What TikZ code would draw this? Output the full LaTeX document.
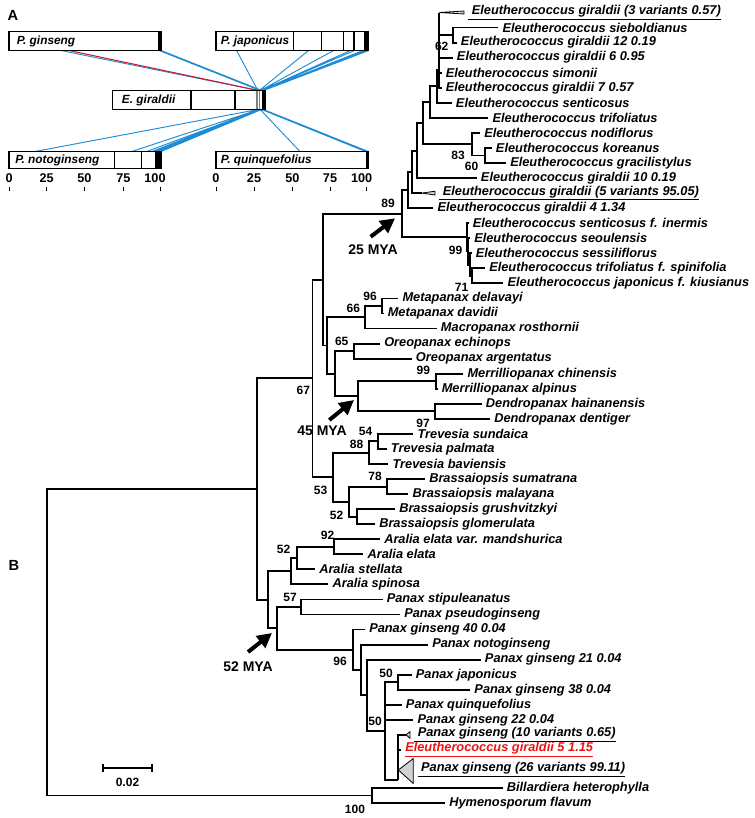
\documentclass[tikz,border=0pt]{standalone}
\usepackage{fontspec}
\setmainfont{Liberation Sans}
\usetikzlibrary{arrows.meta}
\definecolor{synblue}{RGB}{30,140,212}
\definecolor{synred}{RGB}{200,30,45}
\definecolor{hired}{RGB}{235,20,20}

\begin{document}
\begin{tikzpicture}[x=0.75pt, y=-0.75pt,
  branch/.style={line width=1.4pt},
  taxon/.style={anchor=west, inner xsep=3pt, inner ysep=0pt, font=\bfseries\itshape\fontsize{9.6}{10}\selectfont},
  boot/.style={inner sep=0pt, font=\bfseries\fontsize{9}{10}\selectfont},
  mya/.style={line width=3pt, -{Triangle[length=11pt,width=11pt]}},
  myatext/.style={inner sep=0pt, font=\bfseries\fontsize{10.5}{12}\selectfont},
  clade/.style={draw=black, line width=0.6pt, fill=gray!35},
  bar/.style={draw=black, line width=0.8pt},
  barlabel/.style={anchor=west, inner sep=0pt, font=\bfseries\itshape\fontsize{8.9}{10}\selectfont},
  axislabel/.style={inner sep=0pt, font=\bfseries\fontsize{9.5}{10}\selectfont},
  panel/.style={inner sep=0pt, font=\bfseries\fontsize{11}{12}\selectfont},
  syn/.style={draw=synblue, line width=0.7pt},
  synr/.style={draw=synred, line width=0.8pt}]

  \useasboundingbox (0,0) rectangle (755,818);

  % Panel A: collinear blocks between the genomes
  \node[panel] (labA) at (13,15) {A};

  \draw[syn] (62,50.7) -- (259,90.7)
    (159.5,50.7) -- (260.5,90.7) (160.7,50.7) -- (261.5,90.7) (161.7,50.7) -- (262.5,90.7);
  \draw[synr] (70,50.7) -- (259.5,90.7);
  \draw[syn] (236.7,50.7) -- (258,90.7) (308.3,50.7) -- (259,90.7) (333.3,50.7) -- (260,90.7)
    (350,50.7) -- (260.5,90.7) (354,50.7) -- (261,90.7) (362.5,50.7) -- (261.5,90.7)
    (364.5,50.7) -- (262,90.7) (366.5,50.7) -- (262.5,90.7) (368.3,50.7) -- (263,90.7);
  \draw[syn] (259,109.3) -- (35,151.5) (259.5,109.3) -- (131.7,151.5) (260,109.3) -- (146.7,151.5)
    (260.5,109.3) -- (152,151.5) (261,109.3) -- (155,151.5) (261.5,109.3) -- (158,151.5)
    (262,109.3) -- (161,151.5);
  \draw[syn] (260,109.3) -- (300,151.5) (261,109.3) -- (365.5,151.5) (262,109.3) -- (367,151.5)
    (263,109.3) -- (368.3,151.5);

  % the five genome bars
  \draw[bar, fill=white] (9,31.7) rectangle (161.7,50.7);
  \fill (157.7,31.7) rectangle (161.7,50.7);
  \node[barlabel] (barGin) at (16.5,41.2) {P. ginseng};

  \draw[bar, fill=white] (216,31.7) rectangle (368.3,50.7);
  \draw[bar] (293.3,31.7) -- (293.3,50.7) (321.7,31.7) -- (321.7,50.7)
    (343.3,31.7) -- (343.3,50.7) (354,31.7) -- (354,50.7);
  \fill (364,31.7) rectangle (368.3,50.7);
  \node[barlabel] (barJap) at (220.7,41.2) {P. japonicus};

  \draw[bar, fill=white] (112.7,90.7) rectangle (265,109.3);
  \draw[bar] (191,90.7) -- (191,109.3) (235,90.7) -- (235,109.3);
  \draw[gray, line width=0.6pt] (256,90.7) -- (256,109.3) (257.8,90.7) -- (257.8,109.3)
    (259.6,90.7) -- (259.6,109.3);
  \fill (261.7,90.7) rectangle (265,109.3);
  \node[barlabel] (barGir) at (121.7,100) {E. giraldii};

  \draw[bar, fill=white] (9,151.5) rectangle (161.7,168.3);
  \draw[bar] (114.3,151.5) -- (114.3,168.3) (141.7,151.5) -- (141.7,168.3);
  \fill (155,151.5) rectangle (161.7,168.3);
  \node[barlabel] (barNot) at (15,160) {P. notoginseng};

  \draw[bar, fill=white] (216,151.5) rectangle (368.3,168.3);
  \fill (365.7,151.5) rectangle (368.3,168.3);
  \node[barlabel] (barQui) at (220.7,160) {P. quinquefolius};

  % position axes
  \node[axislabel] (ax0) at (9.2,178.5) {0};
  \node[axislabel] (ax25) at (46.7,178.5) {25};
  \node[axislabel] (ax50) at (84.3,178.5) {50};
  \node[axislabel] (ax75) at (123.3,178.5) {75};
  \node[axislabel] (ax100) at (155,178.5) {100};
  \node[axislabel] (bx0) at (216,178.5) {0};
  \node[axislabel] (bx25) at (254,178.5) {25};
  \node[axislabel] (bx50) at (292.3,178.5) {50};
  \node[axislabel] (bx75) at (330,178.5) {75};
  \node[axislabel] (bx100) at (361.7,178.5) {100};
  \draw[line width=0.6pt] (9,186.5) -- (9,190.5) (46.7,186.5) -- (46.7,190.5) (84.3,186.5) -- (84.3,190.5)
    (123.3,186.5) -- (123.3,190.5) (160,186.5) -- (160,190.5)
    (216,186.5) -- (216,190.5) (254,186.5) -- (254,190.5) (292.3,186.5) -- (292.3,190.5)
    (330,186.5) -- (330,190.5) (366.7,186.5) -- (366.7,190.5);

  % Panel B: the tree
  \node[panel] (labB) at (14,565) {B};

  % internal nodes
  \coordinate (nRoot) at (47,642.4);
  \coordinate (nRoot2) at (256.7,489.2);
  \coordinate (nOut) at (371.7,795.5);
  \coordinate (n67) at (312.5,378.4);
  \coordinate (nP1) at (323.3,279.6);
  \coordinate (n89) at (401.7,213.7);
  \coordinate (nG) at (408.3,190);
  \coordinate (nF) at (412.3,171.9);
  \coordinate (nE) at (417.3,150.6);
  \coordinate (nD) at (423.3,123.1);
  \coordinate (nC) at (430,102);
  \coordinate (nB) at (436.7,86.2);
  \coordinate (nA) at (439.3,69.6);
  \coordinate (n62) at (453.3,35.1);
  \coordinate (n83) at (471.7,144.2);
  \coordinate (n60) at (485,155.5);
  \coordinate (n99) at (466.7,237.3);
  \coordinate (nY) at (468.3,251.4);
  \coordinate (nZ) at (470,264.6);
  \coordinate (n71) at (471.7,275.9);
  \coordinate (nYY) at (326.7,345.5);
  \coordinate (n66) at (365,317.3);
  \coordinate (n96m) at (381.7,306);
  \coordinate (nX) at (335,373.7);
  \coordinate (n65) at (354,351.1);
  \coordinate (n45) at (358.3,396.3);
  \coordinate (nM99) at (436,381.2);
  \coordinate (nD97) at (435,411.3);
  \coordinate (n53) at (333.3,477.2);
  \coordinate (n88) at (369.3,452.7);
  \coordinate (n54) at (378.3,441.4);
  \coordinate (n52B) at (349,501.6);
  \coordinate (n78) at (387.3,486.6);
  \coordinate (n52b) at (356.7,516.7);
  \coordinate (nR) at (268.4,599.9);
  \coordinate (nAra) at (291,571.3);
  \coordinate (n52A) at (296.7,558.1);
  \coordinate (n92) at (334,546.8);
  \coordinate (nP) at (277.2,628.4);
  \coordinate (n57) at (301,607);
  \coordinate (n96P) at (352.6,649.8);
  \coordinate (na) at (361.4,670);
  \coordinate (nb) at (366.7,695.4);
  \coordinate (nc) at (385,731.1);
  \coordinate (n50j) at (398.2,682.2);
  \coordinate (nDd) at (398.3,780);
  \coordinate (c13) at (421.7,193.1);
  \coordinate (c49) at (406,734.9);

  % leaves
  \node[taxon] (t1) at (464,12.5) {\underline{~Eleutherococcus giraldii (3 variants 0.57)}};
  \node[taxon] (t2) at (498.3,27.55) {Eleutherococcus sieboldianus};
  \node[taxon] (t3) at (456.7,42.6) {Eleutherococcus giraldii 12 0.19};
  \node[taxon] (t4) at (452.7,57.65) {Eleutherococcus giraldii 6 0.95};
  \node[taxon] (t5) at (441.5,72.7) {Eleutherococcus simonii};
  \node[taxon] (t6) at (441.5,87.75) {Eleutherococcus giraldii 7 0.57};
  \node[taxon] (t7) at (451.7,102.8) {Eleutherococcus senticosus};
  \node[taxon] (t8) at (488.3,117.85) {Eleutherococcus trifoliatus};
  \node[taxon] (t9) at (480,132.9) {Eleutherococcus nodiflorus};
  \node[taxon] (t10) at (491.7,147.95) {Eleutherococcus koreanus};
  \node[taxon] (t11) at (506,163) {Eleutherococcus gracilistylus};
  \node[taxon] (t12) at (476.7,178.05) {Eleutherococcus giraldii 10 0.19};
  \node[taxon] (t13) at (435,193.1) {\underline{~Eleutherococcus giraldii (5 variants 95.05)}};
  \node[taxon] (t14) at (433.3,208.15) {Eleutherococcus giraldii 4 1.34};
  \node[taxon] (t15) at (468.5,223.2) {Eleutherococcus senticosus f. inermis};
  \node[taxon] (t16) at (470,238.25) {Eleutherococcus seoulensis};
  \node[taxon] (t17) at (471.5,253.3) {Eleutherococcus sessiliflorus};
  \node[taxon] (t18) at (485,268.35) {Eleutherococcus trifoliatus f. spinifolia};
  \node[taxon] (t19) at (503.3,283.4) {Eleutherococcus japonicus f. kiusianus};
  \node[taxon] (t20) at (398.3,298.45) {Metapanax delavayi};
  \node[taxon] (t21) at (383.5,313.5) {Metapanax davidii};
  \node[taxon] (t22) at (436.7,328.55) {Macropanax rosthornii};
  \node[taxon] (t23) at (380,343.6) {Oreopanax echinops};
  \node[taxon] (t24) at (411.7,358.65) {Oreopanax argentatus};
  \node[taxon] (t25) at (463.3,373.7) {Merrilliopanax chinensis};
  \node[taxon] (t26) at (437.5,388.75) {Merrilliopanax alpinus};
  \node[taxon] (t27) at (481.7,403.8) {Dendropanax hainanensis};
  \node[taxon] (t28) at (490,418.85) {Dendropanax dentiger};
  \node[taxon] (t29) at (413.3,433.9) {Trevesia sundaica};
  \node[taxon] (t30) at (386.7,448.95) {Trevesia palmata};
  \node[taxon] (t31) at (388.3,464) {Trevesia baviensis};
  \node[taxon] (t32) at (425,479.05) {Brassaiopsis sumatrana};
  \node[taxon] (t33) at (408.3,494.1) {Brassaiopsis malayana};
  \node[taxon] (t34) at (395,509.15) {Brassaiopsis grushvitzkyi};
  \node[taxon] (t35) at (375,524.2) {Brassaiopsis glomerulata};
  \node[taxon] (t36) at (380,539.25) {Aralia elata var. mandshurica};
  \node[taxon] (t37) at (363.3,554.3) {Aralia elata};
  \node[taxon] (t38) at (315,569.35) {Aralia stellata};
  \node[taxon] (t39) at (328.3,584.4) {Aralia spinosa};
  \node[taxon] (t40) at (382.5,599.45) {Panax stipuleanatus};
  \node[taxon] (t41) at (400,614.5) {Panax pseudoginseng};
  \node[taxon] (t42) at (365,629.55) {Panax ginseng 40 0.04};
  \node[taxon] (t43) at (428,644.6) {Panax notoginseng};
  \node[taxon] (t44) at (480.7,659.65) {Panax ginseng 21 0.04};
  \node[taxon] (t45) at (411.6,674.7) {Panax japonicus};
  \node[taxon] (t46) at (470.2,689.75) {Panax ginseng 38 0.04};
  \node[taxon] (t47) at (401.7,704.8) {Panax quinquefolius};
  \node[taxon] (t48) at (413.3,719.85) {Panax ginseng 22 0.04};
  \node[taxon] (t49) at (410,734.9) {\underline{~Panax ginseng (10 variants 0.65)}};
  \node[taxon, text=hired] (t50) at (401,749.95) {\underline{Eleutherococcus giraldii 5 1.15}};
  \node[taxon] (t51) at (413.3,770) {\underline{~Panax ginseng (26 variants 99.11)}};
  \node[taxon] (t52) at (502.6,788) {Billardiera heterophylla};
  \node[taxon] (t53) at (445,803) {Hymenosporum flavum};

  % branches
  \draw[branch] (nRoot) |- (nRoot2) (nRoot) |- (nOut) (nOut) |- (t52.west) (nOut) |- (t53.west)
    (nRoot2) |- (n67) (nRoot2) |- (nR)
    (n67) |- (nP1) (n67) |- (n53)
    (nP1) |- (n89) (nP1) |- (nYY)
    (n89) |- (nG) (n89) |- (n99)
    (nG) |- (nF) (nG) |- (t14.west)
    (nF) |- (nE) (nF) |- (c13)
    (nE) |- (nD) (nE) |- (t12.west)
    (nD) |- (nC) (nD) |- (n83)
    (nC) |- (nB) (nC) |- (t8.west)
    (nB) |- (nA) (nB) |- (t7.west)
    (nA) -- (nA |- t1) (nA) |- (n62) (nA) |- (t4.west) (nA) |- (t5.west) (nA) |- (t6.west)
    (n62) |- (t2.west) (n62) |- (t3.west)
    (n83) |- (t9.west) (n83) |- (n60) (n60) |- (t10.west) (n60) |- (t11.west)
    (n99) |- (t15.west) (n99) |- (nY) (nY) |- (t16.west) (nY) |- (nZ)
    (nZ) |- (t17.west) (nZ) |- (n71) (n71) |- (t18.west) (n71) |- (t19.west)
    (nYY) |- (n66) (nYY) |- (nX)
    (n66) |- (n96m) (n66) |- (t22.west) (n96m) |- (t20.west) (n96m) |- (t21.west)
    (nX) |- (n65) (nX) |- (n45) (n65) |- (t23.west) (n65) |- (t24.west)
    (n45) |- (nM99) (n45) |- (nD97)
    (nM99) |- (t25.west) (nM99) |- (t26.west) (nD97) |- (t27.west) (nD97) |- (t28.west)
    (n53) |- (n88) (n53) |- (n52B)
    (n88) |- (n54) (n88) |- (t31.west) (n54) |- (t29.west) (n54) |- (t30.west)
    (n52B) |- (n78) (n52B) |- (n52b)
    (n78) |- (t32.west) (n78) |- (t33.west) (n52b) |- (t34.west) (n52b) |- (t35.west)
    (nR) |- (nAra) (nR) |- (nP)
    (nAra) |- (n52A) (nAra) |- (t39.west) (n52A) |- (n92) (n52A) |- (t38.west)
    (n92) |- (t36.west) (n92) |- (t37.west)
    (nP) |- (n57) (nP) |- (n96P) (n57) |- (t40.west) (n57) |- (t41.west)
    (n96P) |- (t42.west) (n96P) |- (na) (na) |- (t43.west) (na) |- (nb)
    (nb) |- (t44.west) (nb) |- (nc)
    (nc) |- (n50j) (nc) |- (t47.west) (nc) |- (t48.west) (nc) |- (nDd)
    (n50j) |- (t45.west) (n50j) |- (t46.west)
    (nDd) |- (c49) (nDd) |- (t50.west) (nDd) -- (nDd |- t51);

  % collapsed clades
  \filldraw[clade] (nA |- t1) -- (464,11) -- (464,14) -- cycle;
  \filldraw[clade] (c13) -- (435,191.2) -- (435,195) -- cycle;
  \filldraw[clade] (c49) -- (410,731.6) -- (410,738.2) -- cycle;
  \filldraw[clade] (nDd |- t51) -- (413.3,758.5) -- (413.3,783.5) -- cycle;

  % bootstrap values
  \node[boot] (b62) at (441.7,46.7) {62};
  \node[boot] (b83) at (458,155) {83};
  \node[boot] (b60) at (471.5,166.7) {60};
  \node[boot] (b89) at (388,203.3) {89};
  \node[boot] (b99e) at (455.5,250) {99};
  \node[boot] (b71) at (461.5,287) {71};
  \node[boot] (b96m) at (370,296.7) {96};
  \node[boot] (b66) at (353.3,308.3) {66};
  \node[boot] (b65) at (341.7,341.7) {65};
  \node[boot] (b99m) at (423.3,370) {99};
  \node[boot] (b67) at (303.3,390) {67};
  \node[boot] (b97) at (423,423.3) {97};
  \node[boot] (b54) at (365.5,431.7) {54};
  \node[boot] (b88) at (356.5,444) {88};
  \node[boot] (b53) at (320.5,490) {53};
  \node[boot] (b78) at (375,476.7) {78};
  \node[boot] (b52b) at (336.5,515) {52};
  \node[boot] (b92) at (327.5,535) {92};
  \node[boot] (b52a) at (283.5,549.3) {52};
  \node[boot] (b57) at (290,597.7) {57};
  \node[boot] (b96p) at (340,661) {96};
  \node[boot] (b50j) at (386,673) {50};
  \node[boot] (b50) at (375,721.7) {50};
  \node[boot] (b100) at (355,809) {100};

  % divergence times
  \coordinate (m25) at (370.7,236.7);
  \coordinate (m45) at (329.3,420);
  \coordinate (m52) at (248,652);
  \draw[mya] (m25) -- (395,218.3);
  \draw[mya] (m45) -- (354,400);
  \draw[mya] (m52) -- (272,633);
  \node[myatext] (l25) at (373,250) {25 MYA};
  \node[myatext] (l45) at (322,431) {45 MYA};
  \node[myatext] (l52) at (248,667) {52 MYA};

  % scale bar
  \draw[branch] (103,764) -- (103,772) (103,768) -- (152,768) (152,764) -- (152,772);
  \node[boot] (sbar) at (127.5,782) {0.02};
\end{tikzpicture}
\end{document}
